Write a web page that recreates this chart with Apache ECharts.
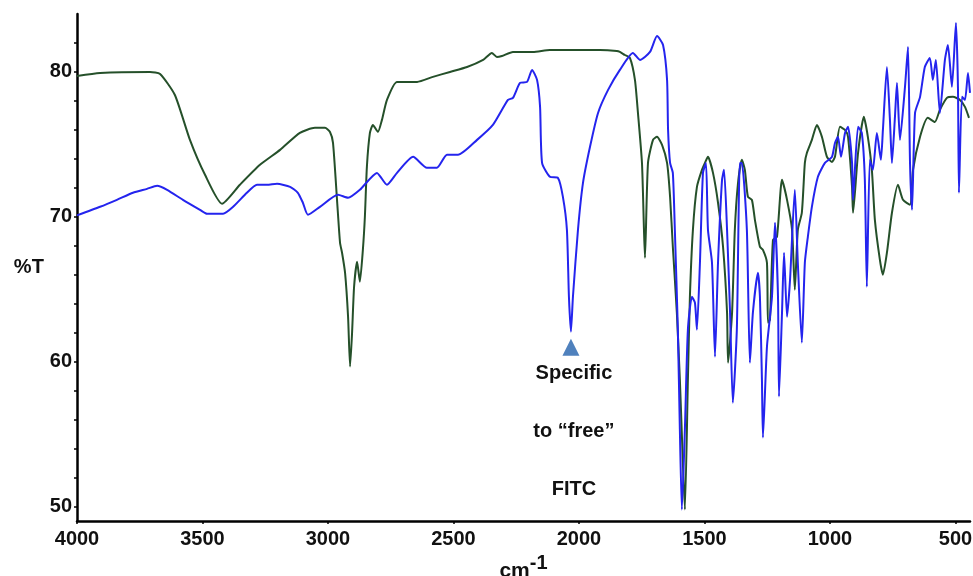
<!DOCTYPE html>
<html>
<head>
<meta charset="utf-8">
<script src="https://cdn.jsdelivr.net/npm/echarts@6.0.0/dist/echarts.min.js"></script>
<style>
  html, body { margin: 0; padding: 0; background: #fff; }
  #chart { width: 973px; height: 576px; }
</style>
</head>
<body>
<div id="chart"></div>
<script>
// wavenumber (cm-1) and %T
var greenWn = [4000, 3908, 3709, 3669, 3610, 3550, 3490, 3422, 3351, 3271, 3191, 3112, 3052, 3012, 2992, 2980, 2964, 2952, 2944, 2932, 2920, 2912, 2904, 2896, 2884, 2873, 2861, 2853, 2845, 2833, 2821, 2801, 2785, 2765, 2725, 2645, 2582, 2514, 2446, 2382, 2347, 2327, 2307, 2263, 2183, 2116, 1916, 1849, 1837, 1817, 1797, 1777, 1765, 1749, 1741, 1737, 1725, 1705, 1689, 1669, 1649, 1637, 1626, 1610, 1598, 1586, 1578, 1566, 1558, 1546, 1530, 1510, 1498, 1486, 1466, 1446, 1426, 1410, 1406, 1390, 1379, 1367, 1351, 1339, 1327, 1311, 1299, 1279, 1267, 1251, 1247, 1239, 1227, 1211, 1191, 1171, 1151, 1140, 1128, 1112, 1100, 1092, 1072, 1052, 1032, 1012, 992, 980, 960, 940, 928, 912, 908, 888, 865, 849, 833, 821, 801, 789, 773, 753, 729, 709, 681, 669, 641, 610, 582, 562, 534, 510, 482, 462, 446];
var greenT = [79.72, 79.93, 80.0, 79.86, 78.41, 75.31, 72.9, 70.9, 72.21, 73.59, 74.62, 75.79, 76.14, 76.14, 75.86, 75.1, 71.17, 68.21, 67.52, 66.14, 63.1, 59.66, 62.0, 65.17, 66.9, 65.52, 67.72, 70.0, 73.45, 75.79, 76.34, 75.86, 76.69, 78.07, 79.31, 79.31, 79.66, 80.0, 80.34, 80.83, 81.31, 81.03, 81.1, 81.38, 81.38, 81.52, 81.52, 81.45, 81.38, 81.17, 80.97, 79.45, 77.17, 73.72, 69.1, 67.17, 73.72, 75.31, 75.52, 74.97, 73.72, 71.38, 67.93, 63.38, 58.76, 53.03, 49.79, 58.76, 64.48, 69.1, 72.07, 73.24, 73.72, 74.14, 73.03, 70.97, 67.93, 63.38, 59.93, 63.38, 69.1, 72.21, 73.93, 73.24, 71.38, 71.17, 69.79, 67.93, 67.72, 66.83, 62.69, 62.9, 68.41, 68.62, 72.55, 71.17, 69.1, 64.97, 69.1, 70.28, 73.72, 74.41, 75.31, 76.34, 75.52, 74.14, 73.79, 74.14, 76.21, 76.0, 75.52, 72.07, 70.28, 74.41, 76.9, 75.52, 73.24, 69.79, 67.03, 66.0, 67.52, 70.28, 72.21, 71.17, 70.83, 73.24, 75.52, 76.83, 76.55, 77.38, 78.21, 78.28, 78.07, 77.59, 76.83];

var blueWn = [4000, 3908, 3841, 3777, 3721, 3681, 3641, 3578, 3510, 3482, 3418, 3378, 3323, 3283, 3243, 3203, 3151, 3120, 3100, 3080, 3032, 2960, 2920, 2873, 2805, 2765, 2725, 2661, 2606, 2566, 2526, 2482, 2406, 2343, 2283, 2263, 2235, 2207, 2187, 2167, 2155, 2147, 2116, 2084, 2064, 2048, 2040, 2032, 2024, 2004, 1984, 1956, 1924, 1884, 1837, 1785, 1757, 1717, 1689, 1665, 1649, 1645, 1637, 1626, 1618, 1606, 1598, 1590, 1578, 1566, 1550, 1538, 1530, 1518, 1506, 1494, 1486, 1470, 1458, 1446, 1430, 1422, 1410, 1398, 1387, 1371, 1359, 1351, 1331, 1319, 1307, 1287, 1279, 1271, 1267, 1251, 1231, 1219, 1207, 1203, 1191, 1183, 1171, 1159, 1140, 1128, 1112, 1100, 1088, 1072, 1048, 1020, 992, 980, 968, 956, 940, 928, 912, 908, 888, 873, 861, 853, 841, 829, 813, 797, 789, 773, 761, 753, 741, 733, 721, 701, 689, 681, 673, 661, 641, 622, 602, 590, 578, 562, 542, 530, 514, 498, 490, 486, 474, 462, 450, 442];
var blueT = [70.1, 70.69, 71.17, 71.66, 71.93, 72.14, 71.86, 71.17, 70.48, 70.21, 70.21, 70.69, 71.66, 72.21, 72.21, 72.28, 72.07, 71.66, 70.97, 70.14, 70.69, 71.52, 71.31, 71.86, 73.03, 72.21, 73.03, 74.14, 73.38, 73.38, 74.28, 74.28, 75.31, 76.34, 78.07, 78.21, 79.24, 79.31, 80.14, 79.45, 77.59, 73.72, 72.76, 72.69, 71.38, 69.1, 64.48, 62.07, 64.48, 69.1, 72.34, 74.83, 77.17, 78.76, 80.14, 81.31, 80.83, 81.38, 82.48, 81.86, 79.45, 76.0, 73.72, 73.03, 69.1, 62.21, 55.31, 49.79, 55.31, 62.21, 64.48, 64.07, 62.21, 66.83, 73.03, 73.72, 69.1, 66.83, 60.34, 66.83, 72.55, 73.24, 69.1, 63.38, 57.17, 62.21, 73.72, 73.72, 69.1, 59.93, 63.38, 66.14, 64.48, 58.76, 54.76, 61.03, 64.48, 69.59, 64.48, 57.59, 63.38, 67.52, 63.1, 65.66, 71.86, 66.83, 61.31, 66.83, 68.62, 70.69, 72.76, 73.72, 74.14, 75.1, 75.52, 74.14, 75.79, 76.21, 73.72, 71.17, 76.21, 75.79, 72.55, 65.17, 73.93, 73.24, 75.79, 73.93, 76.0, 80.34, 76.69, 73.72, 76.9, 79.24, 75.31, 78.97, 81.72, 73.72, 70.48, 77.17, 78.28, 80.34, 80.97, 79.45, 80.83, 77.17, 80.83, 81.86, 78.97, 83.38, 78.97, 71.66, 78.28, 78.07, 79.93, 78.55];

var xTicks = [4000, 3500, 3000, 2500, 2000, 1500, 1000, 500];
var yLabels = [50, 60, 70, 80];
var yMinorTicks = [50, 52, 54, 56, 58, 60, 62, 64, 66, 68, 70, 72, 74, 76, 78, 80, 82];

var annotPoint = [2032, 61.0];
var annotText = 'Specific\nto \u201cfree\u201d\nFITC';

function zip(xs, ys) {
  return xs.map(function (x, i) { return [x, ys[i]]; });
}

var font = "'Liberation Sans', Arial, sans-serif";

var myChart = echarts.init(document.getElementById('chart'));
myChart.setOption({
  animation: false,
  backgroundColor: '#ffffff',
  grid: { left: 77, right: 3, top: 14, bottom: 55, outerBoundsMode: 'none', containLabel: false },
  xAxis: {
    type: 'value',
    inverse: true,
    min: 442,
    max: 4000,
    splitLine: { show: false },
    axisLine: { lineStyle: { color: '#000', width: 2.5 } },
    axisTick: { customValues: xTicks, length: 3, lineStyle: { color: '#000', width: 1.5 } },
    axisLabel: {
      customValues: xTicks,
      formatter: function (v) { return String(v); },
      hideOverlap: false,
      showMinLabel: true,
      showMaxLabel: true,
      color: '#111',
      fontFamily: font,
      fontWeight: 'bold',
      fontSize: 20,
      margin: 8
    },
    name: '{a|cm}{b|-1}',
    nameLocation: 'middle',
    nameGap: 28,
    nameTextStyle: {
      rich: {
        a: { fontFamily: font, fontSize: 21, fontWeight: 'bold', color: '#111' },
        b: { fontFamily: font, fontSize: 20, fontWeight: 'bold', color: '#111', padding: [0, 0, 14, 0] }
      }
    }
  },
  yAxis: {
    type: 'value',
    min: 49,
    max: 84,
    splitLine: { show: false },
    axisLine: { show: true, lineStyle: { color: '#000', width: 2.5 } },
    axisTick: { show: true, customValues: yMinorTicks, length: 3, lineStyle: { color: '#000', width: 1.5 } },
    axisLabel: {
      customValues: yLabels,
      color: '#111',
      fontFamily: font,
      fontWeight: 'bold',
      fontSize: 20,
      margin: 5
    },
    name: '%T',
    nameLocation: 'middle',
    nameRotate: 0,
    nameGap: 48,
    nameTextStyle: {
      align: 'center',
      fontFamily: font,
      fontWeight: 'bold',
      fontSize: 20,
      color: '#111'
    }
  },
  series: [
    {
      name: 'green',
      type: 'line',
      data: zip(greenWn, greenT),
      showSymbol: false,
      smooth: 0.2,
      lineStyle: { color: '#25502a', width: 2 },
      z: 2
    },
    {
      name: 'blue',
      type: 'line',
      data: zip(blueWn, blueT),
      showSymbol: false,
      smooth: 0.2,
      lineStyle: { color: '#2424ee', width: 2 },
      z: 3,
      markPoint: {
        silent: true,
        data: [{
          coord: annotPoint,
          symbol: 'triangle',
          symbolSize: [17, 17],
          itemStyle: { color: '#4f81bd' },
          label: {
            show: true,
            position: 'bottom',
            distance: 0,
            offset: [3, -11],
            formatter: annotText,
            lineHeight: 58,
            fontFamily: font,
            fontWeight: 'bold',
            fontSize: 20,
            color: '#111',
            align: 'center'
          }
        }]
      }
    }
  ]
});
</script>
</body>
</html>
